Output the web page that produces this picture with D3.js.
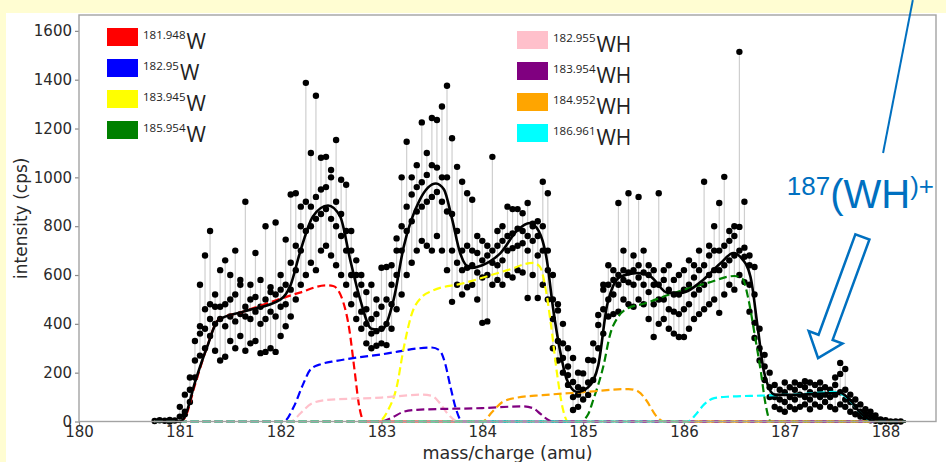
<!DOCTYPE html>
<html>
<head>
<meta charset="utf-8">
<script src="https://cdn.jsdelivr.net/npm/d3@7"></script>
<style>
  html, body { margin: 0; padding: 0; background: #fffdd2; }
  svg { display: block; }
</style>
</head>
<body>
<svg id="chart" width="946" height="462"></svg>
<script>
// ---- measured spectrum: each mass channel holds its repeated intensity readings (cps)
const channelMass = [
  180.75, 180.80, 180.85, 180.90, 180.95, 181.00, 181.05, 181.10, 181.15, 181.20,
  181.25, 181.30, 181.35, 181.40, 181.45, 181.50, 181.55, 181.60, 181.65, 181.70,
  181.75, 181.80, 181.85, 181.90, 181.95, 182.00, 182.05, 182.10, 182.15, 182.20,
  182.25, 182.30, 182.35, 182.40, 182.45, 182.50, 182.55, 182.60, 182.65, 182.70,
  182.75, 182.80, 182.85, 182.90, 182.95, 183.00, 183.05, 183.10, 183.15, 183.20,
  183.25, 183.30, 183.35, 183.40, 183.45, 183.50, 183.55, 183.60, 183.65, 183.70,
  183.75, 183.80, 183.85, 183.90, 183.95, 184.00, 184.05, 184.10, 184.15, 184.20,
  184.25, 184.30, 184.35, 184.40, 184.45, 184.50, 184.55, 184.60, 184.65, 184.70,
  184.75, 184.80, 184.85, 184.90, 184.95, 185.00, 185.05, 185.10, 185.15, 185.20,
  185.25, 185.30, 185.35, 185.40, 185.45, 185.50, 185.55, 185.60, 185.65, 185.70,
  185.75, 185.80, 185.85, 185.90, 185.95, 186.00, 186.05, 186.10, 186.15, 186.20,
  186.25, 186.30, 186.35, 186.40, 186.45, 186.50, 186.55, 186.60, 186.65, 186.70,
  186.75, 186.80, 186.85, 186.90, 186.95, 187.00, 187.05, 187.10, 187.15, 187.20,
  187.25, 187.30, 187.35, 187.40, 187.45, 187.50, 187.55, 187.60, 187.65, 187.70,
  187.75, 187.80, 187.85, 187.90, 187.95, 188.00, 188.05, 188.10, 188.15
];
const channelCounts = [
  [2], [5], [3], [6, 0], [4], [20, 60], [30, 40, 110], [80, 130, 180], [180, 250, 330], [270, 360, 390, 560],
  [300, 380, 460, 680], [350, 420, 480, 780], [290, 400, 470, 520], [250, 420, 470, 620], [265, 390, 480, 660], [330, 430, 500, 600], [300, 410, 520, 700], [350, 440, 560, 580], [290, 430, 470, 900], [320, 420, 500, 560],
  [330, 450, 510, 690], [280, 400, 470, 580], [285, 420, 500, 800], [300, 450, 530, 550], [285, 430, 520, 815], [350, 470, 540, 600], [390, 480, 560, 745], [430, 540, 650, 930], [500, 620, 720, 935], [560, 700, 800, 880],
  [600, 780, 900, 1387], [650, 800, 880, 1100], [620, 830, 920, 1334], [700, 850, 950, 1080], [720, 870, 960, 1084], [680, 830, 1000, 1030], [640, 800, 900, 1153], [600, 760, 850, 990], [560, 700, 780, 970], [480, 600, 700, 780],
  [420, 520, 600, 660], [380, 450, 560, 600], [320, 400, 460, 530], [300, 360, 420, 560], [310, 370, 440, 500], [320, 380, 470, 630], [313, 400, 500, 633], [380, 480, 560, 640], [460, 600, 700, 750], [520, 700, 800, 1000],
  [600, 780, 880, 1146], [650, 820, 930, 1000], [700, 860, 960, 1050], [740, 880, 980, 1225], [720, 900, 1010, 1100], [700, 920, 1050, 1243], [760, 940, 1040, 1235], [700, 900, 1000, 1290], [620, 860, 1000, 1375], [490, 700, 850, 1160],
  [560, 650, 780, 1043], [520, 620, 700, 982], [550, 630, 720, 935], [560, 640, 700, 908], [500, 610, 690, 760], [404, 590, 660, 740], [410, 600, 680, 720], [560, 650, 700, 1084], [580, 640, 720, 780], [560, 660, 740, 800],
  [600, 700, 760, 880], [590, 710, 770, 870], [620, 720, 790, 870], [610, 730, 780, 853], [506, 700, 760, 895], [600, 740, 800, 810], [506, 680, 760, 820], [560, 700, 800, 982], [500, 620, 700, 935], [300, 420, 500, 600],
  [250, 330, 455, 480], [200, 260, 320, 400], [150, 190, 225, 300], [47, 100, 162, 260], [60, 110, 140, 200], [90, 130, 197], [109, 160, 252], [170, 250, 320], [300, 395, 436], [360, 460, 540, 560],
  [430, 500, 560, 640], [440, 520, 580, 620], [450, 560, 600, 895], [500, 580, 620, 700], [480, 570, 610, 935], [470, 560, 620, 680], [500, 590, 640, 920], [480, 560, 610, 700], [420, 530, 600, 640], [346, 480, 560, 620],
  [400, 500, 560, 935], [420, 500, 580, 620], [380, 460, 540, 640], [360, 450, 520, 580], [346, 440, 520, 600], [346, 460, 540, 620], [380, 480, 560, 660], [420, 520, 590, 640], [440, 540, 620, 700], [460, 560, 640, 982],
  [480, 600, 680, 720], [500, 620, 700, 800], [445, 620, 700, 895], [520, 640, 720, 1002], [560, 660, 740, 780], [540, 680, 760, 800], [600, 700, 797, 1514], [571, 675, 712, 900], [450, 560, 640, 680], [342, 404, 520, 633],
  [250, 300, 380], [170, 225, 273], [100, 140, 200], [60, 100, 150], [50, 90, 130], [40, 80, 120, 160], [60, 100, 140], [50, 90, 130, 160], [60, 110, 150], [70, 100, 140, 165],
  [50, 90, 120, 160], [70, 110, 150], [60, 100, 130, 160], [80, 110, 140], [60, 100, 130], [50, 110, 150, 180], [70, 120, 195, 240], [60, 90, 130, 215], [40, 80, 110], [30, 60, 90],
  [20, 40, 70], [10, 30, 50], [5, 20, 40], [3, 10, 25], [0, 8], [2, 5], [0], [0], [0]
];

// ---- fitted isotope components, [mass, intensity] knots
const comp181948W = [[180.75,0],[181.0,0],[181.05,15],[181.15,150],[181.27,305],[181.38,415],[181.63,450],[182.19,528],[182.45,558],[182.52,555],[182.62,490],[182.68,380],[182.73,220],[182.78,60],[182.83,0],[188.2,0]];
const comp18295W   = [[180.75,0],[182.03,0],[182.13,60],[182.22,150],[182.3,215],[182.4,235],[182.55,248],[183.0,275],[183.5,303],[183.58,290],[183.63,240],[183.68,150],[183.74,50],[183.8,0],[188.2,0]];
const comp183945W  = [[180.75,0],[182.97,0],[183.07,50],[183.15,140],[183.22,300],[183.3,440],[183.4,510],[183.5,535],[183.8,565],[184.25,620],[184.5,650],[184.57,635],[184.63,540],[184.68,400],[184.74,200],[184.8,50],[184.85,0],[188.2,0]];
const comp185954W  = [[180.75,0],[184.97,0],[185.05,30],[185.1,88],[185.2,225],[185.27,360],[185.35,430],[185.45,465],[185.6,482],[185.84,518],[186.23,567],[186.5,596],[186.58,585],[186.64,500],[186.7,360],[186.76,211],[186.81,70],[186.86,0],[188.2,0]];
const comp182955WH = [[180.75,0],[182.1,0],[182.2,35],[182.3,72],[182.45,88],[183.0,98],[183.4,110],[183.5,105],[183.58,75],[183.66,30],[183.76,0],[188.2,0]];
const comp183954WH = [[180.75,0],[183.0,0],[183.1,15],[183.22,40],[183.35,48],[184.0,55],[184.4,62],[184.5,55],[184.58,30],[184.66,5],[184.7,0],[188.2,0]];
const comp184952WH = [[180.75,0],[184.0,0],[184.1,40],[184.2,80],[184.35,98],[184.6,108],[185.0,120],[185.45,133],[185.55,122],[185.63,85],[185.72,25],[185.8,0],[188.2,0]];
const comp186961WH = [[180.75,0],[186.04,0],[186.12,30],[186.2,70],[186.3,96],[186.45,102],[186.76,106],[187.2,113],[187.48,121],[187.58,108],[187.66,80],[187.75,35],[187.85,5],[187.9,0],[188.2,0]];

// ---- total fit
const totalFit = [[180.75,0],[181.0,0],[181.05,20],[181.15,160],[181.27,305],[181.38,415],[181.63,450],[182.0,500],[182.1,560],[182.19,690],[182.32,840],[182.47,885],[182.59,840],[182.69,662],[182.79,498],[182.9,380],[183.0,375],[183.12,498],[183.22,715],[183.38,908],[183.54,975],[183.62,950],[183.7,830],[183.78,690],[183.88,629],[184.0,640],[184.18,690],[184.35,784],[184.47,813],[184.56,780],[184.64,662],[184.7,470],[184.77,293],[184.84,170],[184.94,121],[185.05,140],[185.15,230],[185.24,480],[185.37,593],[185.54,608],[185.67,593],[185.84,527],[185.97,527],[186.19,580],[186.36,647],[186.49,690],[186.56,674],[186.66,593],[186.73,390],[186.79,211],[186.84,140],[186.9,110],[187.06,109],[187.55,117],[187.65,88],[187.75,35],[187.85,6],[187.9,0],[188.2,0]];

// ---- legend entries (mass label, species) and colours
const isotopeMasses = ["181.948", "182.95", "183.945", "185.954", "182.955", "183.954", "184.952", "186.961"];
const isotopeSpecies = ["W", "W", "W", "W", "WH", "WH", "WH", "WH"];
const componentColors = ["red", "blue", "yellow", "green", "pink", "purple", "orange", "cyan"];
const componentCurves = [comp181948W, comp18295W, comp183945W, comp185954W, comp182955WH, comp183954WH, comp184952WH, comp186961WH];

// ---- axes
const xTicks = [180, 181, 182, 183, 184, 185, 186, 187, 188];
const yTicks = [0, 200, 400, 600, 800, 1000, 1200, 1400, 1600];
const xDomain = [180, 188.5];
const yDomain = [0, 1665];

// ---- callout for the 187 hydride peak (data coordinates)
const calloutLeader = [[188.27, 1726], [187.975, 1100]];
const calloutArrowTail = [187.77, 756];
const calloutArrowTip = [187.33, 260];
const calloutLabelAt = [187.02, 927];

const svg = d3.select("#chart");
const W = 946, H = 462;
const plot = { left: 79, right: 936, top: 15, bottom: 421.5 };

svg.append("rect").attr("x", 6).attr("y", 13).attr("width", W - 6).attr("height", H - 13).attr("fill", "#ffffff");

const x = d3.scaleLinear().domain(xDomain).range([plot.left, plot.right]);
const y = d3.scaleLinear().domain(yDomain).range([plot.bottom, plot.top]);

// axes
const axisFont = "'DejaVu Sans', sans-serif";
const gx = svg.append("g").attr("transform", `translate(0,${plot.bottom})`)
  .call(d3.axisBottom(x).tickValues(xTicks).tickFormat(d3.format("d")).tickSize(4).tickPadding(2));
const gy = svg.append("g").attr("transform", `translate(${plot.left},0)`)
  .call(d3.axisLeft(y).tickValues(yTicks).tickFormat(d3.format("d")).tickSize(4).tickPadding(3));
[gx, gy].forEach(g => {
  g.select(".domain").remove();
  g.selectAll(".tick line").attr("stroke", "#8a8a8a").attr("stroke-width", 1.2);
  g.selectAll(".tick text").attr("fill", "#2a2a2a").style("font-family", axisFont).style("font-size", "15px");
});
gx.selectAll(".tick text").attr("dy", "0.66em");

svg.append("text")
  .attr("x", (plot.left + plot.right) / 2).attr("y", 458.5)
  .attr("text-anchor", "middle").attr("fill", "#2a2a2a")
  .style("font-family", axisFont).style("font-size", "17.5px")
  .text("mass/charge (amu)");
svg.append("text")
  .attr("transform", `translate(27,${(plot.top + plot.bottom) / 2}) rotate(-90)`)
  .attr("text-anchor", "middle").attr("fill", "#2a2a2a")
  .style("font-family", axisFont).style("font-size", "17px")
  .text("intensity (cps)");

// spread of repeated readings per channel
const channels = channelMass.map((m, i) => ({ mass: m, counts: channelCounts[i] }));
svg.append("g").selectAll("line").data(channels.filter(c => c.counts.length > 1)).join("line")
  .attr("x1", d => x(d.mass)).attr("x2", d => x(d.mass))
  .attr("y1", d => y(d3.min(d.counts))).attr("y2", d => y(d3.max(d.counts)))
  .attr("stroke", "#cfcfcf").attr("stroke-width", 1.2);

const readings = channels.flatMap(c => c.counts.map(v => ({ mass: c.mass, v })));
svg.append("g").selectAll("circle").data(readings).join("circle")
  .attr("cx", d => x(d.mass)).attr("cy", d => y(d.v)).attr("r", 3.2)
  .attr("fill", "#000");

// isotope components
const line = d3.line().x(d => x(d[0])).y(d => y(d[1])).curve(d3.curveMonotoneX);
svg.append("g").selectAll("path").data(componentCurves).join("path")
  .attr("d", line)
  .attr("fill", "none")
  .attr("stroke", (d, i) => componentColors[i])
  .attr("stroke-width", 2.2)
  .attr("stroke-dasharray", "8,4");

// total fit
svg.append("path").datum(totalFit)
  .attr("d", line).attr("fill", "none").attr("stroke", "#000").attr("stroke-width", 2.6);

// frame
svg.append("rect")
  .attr("x", plot.left).attr("y", plot.top)
  .attr("width", plot.right - plot.left).attr("height", plot.bottom - plot.top)
  .attr("fill", "none").attr("stroke", "#a3a3a3").attr("stroke-width", 1.4);

// legend: two columns of four
const legendFont = "'Open Sans', sans-serif";
const legend = svg.append("g");
isotopeMasses.forEach((m, i) => {
  const col = Math.floor(i / 4), row = i % 4;
  const lx = col === 0 ? 107 : 517;
  const ly = (col === 0 ? 28 : 31) + row * 31;
  legend.append("rect").attr("x", lx).attr("y", ly).attr("width", 31).attr("height", 18)
    .attr("fill", componentColors[i]);
  const t = legend.append("text").attr("x", lx + 36).attr("y", ly + 11)
    .attr("fill", "#222").style("font-family", legendFont);
  t.append("tspan").style("font-size", "11.5px").text(m);
  t.append("tspan").attr("dy", 10).attr("dx", 1).style("font-size", "21px").text(isotopeSpecies[i]);
});

// callout
const blue = "#0070c0";
svg.append("line")
  .attr("x1", x(calloutLeader[0][0])).attr("y1", y(calloutLeader[0][1]))
  .attr("x2", x(calloutLeader[1][0])).attr("y2", y(calloutLeader[1][1]))
  .attr("stroke", blue).attr("stroke-width", 2);

const lab = svg.append("text")
  .attr("x", x(calloutLabelAt[0])).attr("y", y(calloutLabelAt[1]))
  .attr("fill", blue).style("font-family", "'Liberation Sans', Arial, sans-serif");
lab.append("tspan").style("font-size", "26px").text("187");
lab.append("tspan").attr("dy", 13).style("font-size", "40px").text("(WH");
lab.append("tspan").attr("dy", -13).style("font-size", "26px").text(")+");

// hollow block arrow pointing at the 187 peak
const S = [x(calloutArrowTail[0]), y(calloutArrowTail[1])];
const T = [x(calloutArrowTip[0]), y(calloutArrowTip[1])];
const len = Math.hypot(T[0] - S[0], T[1] - S[1]);
const u = [(T[0] - S[0]) / len, (T[1] - S[1]) / len];
const n = [-u[1], u[0]];
const shaft = 7.5, head = 18, headLen = 22;
const B = [T[0] - u[0] * headLen, T[1] - u[1] * headLen];
const pt = (p, k) => [p[0] + n[0] * k, p[1] + n[1] * k];
const arrowPts = [pt(S, shaft), pt(B, shaft), pt(B, head), T, pt(B, -head), pt(B, -shaft), pt(S, -shaft)];
svg.append("polygon")
  .attr("points", arrowPts.map(p => p.join(",")).join(" "))
  .attr("fill", "#fff").attr("stroke", blue).attr("stroke-width", 2.5).attr("stroke-linejoin", "miter");
</script>
</body>
</html>
